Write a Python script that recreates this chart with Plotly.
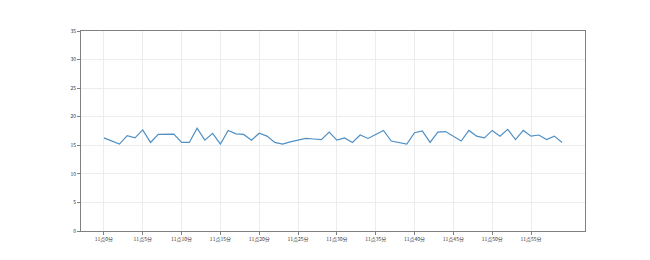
import plotly.graph_objects as go

minutes = list(range(60))
values = [16.3, 15.8, 15.2, 16.7, 16.3, 17.7, 15.5, 16.9, 16.9, 16.95,
          15.5, 15.5, 18.0, 15.9, 17.1, 15.2, 17.6, 17.0, 16.9, 15.9,
          17.1, 16.6, 15.5, 15.2, 15.6, 15.9, 16.2, 16.1, 16.0, 17.3,
          15.9, 16.3, 15.5, 16.8, 16.2, 16.9, 17.6, 15.75, 15.5, 15.2,
          17.2, 17.5, 15.5, 17.3, 17.4, 16.5, 15.75, 17.6, 16.6, 16.3,
          17.6, 16.6, 17.8, 16.0, 17.6, 16.6, 16.8, 16.0, 16.6, 15.5]
tick_vals = list(range(0, 60, 5))
tick_text = [f"11点{m}分" for m in tick_vals]
y_ticks = list(range(0, 40, 5))

fig = go.Figure()
fig.add_trace(go.Scatter(x=minutes, y=values, mode="lines",
                         line=dict(color="#4f8fc4", width=1.2),
                         showlegend=False))

axis_common = dict(showline=True, linecolor="#808080", linewidth=1, mirror=True,
                   showgrid=True, gridcolor="#ececec", gridwidth=1,
                   ticks="outside", ticklen=3, tickcolor="#808080",
                   zeroline=False,
                   tickfont=dict(family="Noto Sans CJK SC", size=5, color="#333333"))

fig.update_layout(
    width=650, height=260,
    margin=dict(l=81, r=65, t=31, b=29),
    paper_bgcolor="white", plot_bgcolor="white",
    xaxis=dict(range=[-2.95, 61.95], tickvals=tick_vals, ticktext=tick_text, **axis_common),
    yaxis=dict(range=[0, 35], tickvals=y_ticks, **axis_common),
)

fig.write_html("out.html")
